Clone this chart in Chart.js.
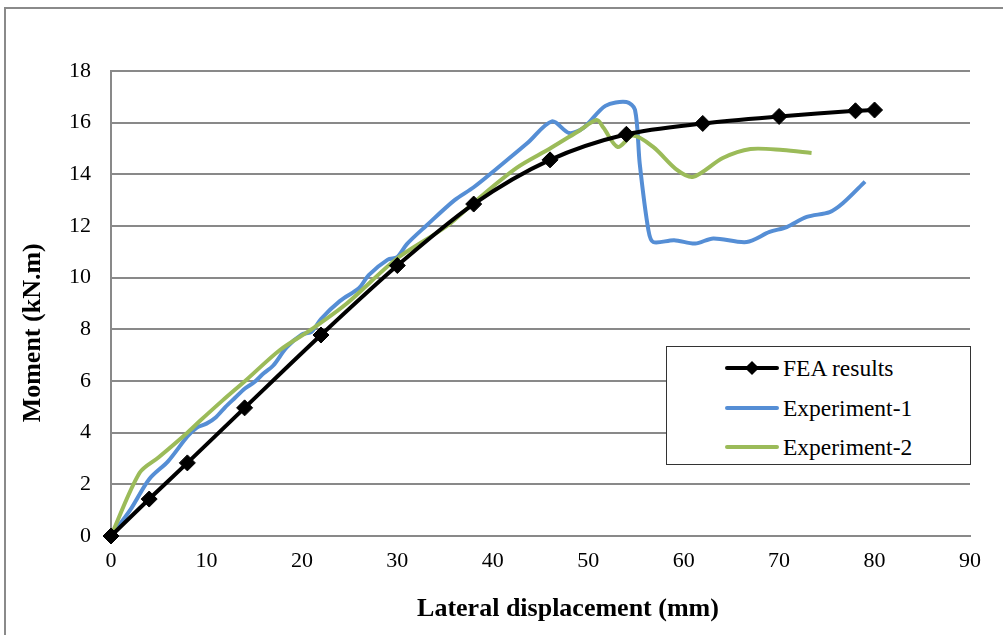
<!DOCTYPE html>
<html lang="en">
<head>
  <meta charset="UTF-8" />
  <title>Moment vs lateral displacement</title>
  <script src="https://cdn.jsdelivr.net/npm/chart.js@4.4.0/dist/chart.umd.min.js"></script>
  <style>
    body {
      margin: 0;
      background: white;
      overflow: hidden;
      font-family: "Liberation Serif", "Times New Roman", serif;
    }
    .wrap {
      position: relative;
      width: 1003px;
      height: 635px;
    }
    .frame {
      position: absolute;
      left: 4px;
      top: 7px;
      width: 1100px;
      height: 800px;
      border: 2px solid #8a8a8a;
    }
    canvas {
      position: absolute;
      left: 0;
      top: 0;
    }
    .legend {
      position: absolute;
      left: 666px;
      top: 346px;
      width: 305px;
      height: 119px;
      border: 1px solid #333;
      background: white;
      box-sizing: border-box;
    }
    .item {
      position: absolute;
      left: 58px;
      height: 30px;
      display: flex;
      align-items: center;
      font-size: 23.5px;
      color: #000;
    }
    .item .line {
      width: 54px;
      height: 4px;
      border-radius: 2px;
      margin-right: 4px;
      position: relative;
    }
    .item .dia {
      position: absolute;
      left: 22px;
      top: -3px;
      width: 10px;
      height: 10px;
      background: #000;
      transform: rotate(45deg);
    }
  </style>
</head>
<body>
  <div class="wrap">
    <div class="frame"></div>
    <canvas id="chart" width="1003" height="635"></canvas>
    <div class="legend">
      <div class="item" style="top:6px"><span class="line" style="background:#000"><span class="dia"></span></span>FEA results</div>
      <div class="item" style="top:46px"><span class="line" style="background:#558ed5"></span>Experiment-1</div>
      <div class="item" style="top:85px"><span class="line" style="background:#9bbb59"></span>Experiment-2</div>
    </div>
  </div>

  <script>
    const feaX = [0, 4, 8, 14, 22, 30, 38, 46, 54, 62, 70, 78, 80];
    const feaY = [0, 1.43, 2.83, 4.96, 7.78, 10.47, 12.85, 14.56, 15.55, 15.97, 16.24, 16.46, 16.49];

    const exp1X = [0, 2, 4, 6, 8, 9, 10, 11, 12, 13, 14, 15, 16, 17, 18.4, 20, 21, 22, 24, 26, 27, 29, 30,
                   31, 33, 36, 38, 41, 43.6, 46.2, 48, 49.5, 51.8, 54, 54.9, 55.4, 56.3, 56.8, 59, 61.2, 63.1,
                   66.6, 69, 70.8, 72.9, 75.3, 76.7, 79];
    const exp1Y = [0, 1.0, 2.2, 2.9, 3.85, 4.2, 4.35, 4.6, 5.0, 5.35, 5.7, 5.95, 6.3, 6.6, 7.3, 7.8, 7.9, 8.4, 9.1, 9.6, 10.1, 10.7, 10.8,
                   11.3, 12.0, 13.0, 13.5, 14.4, 15.2, 16.05, 15.6, 15.8, 16.65, 16.8, 16.5, 14.4, 11.85, 11.38, 11.45, 11.32, 11.52,
                   11.38, 11.77, 11.96, 12.35, 12.54, 12.89, 13.72];

    const exp2X = [0, 3, 5, 8, 9.3, 11.7, 14.2, 17.7, 21.2, 24.7, 30, 35.2, 38.3, 42.5, 46, 49.1, 50.9, 51.6, 53.1,
                   54.7, 56.8, 59.3, 61, 64.1, 67, 70.4, 73.4];
    const exp2Y = [0, 2.45, 3.05, 4.0, 4.45, 5.25, 6.05, 7.2, 8.05, 9.0, 10.75, 12.0, 13.0, 14.25, 15.0, 15.7, 16.1, 15.8, 15.06,
                   15.5, 15.06, 14.17, 13.9, 14.63, 14.98, 14.94, 14.83];

    const xTitle = 'Lateral displacement (mm)';
    const yTitle = 'Moment (kN.m)';

    const zip = (xs, ys) => xs.map((x, i) => ({ x: x, y: ys[i] }));

    const gridGray = '#898989';
    const tickFont = { family: 'Liberation Serif', size: 22 };

    // axis titles placed the way the original sits (a bit off-centre)
    const axisTitles = {
      id: 'axisTitles',
      afterDraw(chart) {
        const ctx = chart.ctx;
        const a = chart.chartArea;
        ctx.save();
        ctx.fillStyle = '#000';
        ctx.font = 'bold 26px "Liberation Serif"';
        ctx.textAlign = 'center';
        ctx.textBaseline = 'middle';
        ctx.fillText(xTitle, a.left + (a.right - a.left) * 0.532, 609);
        ctx.translate(33, a.top + (a.bottom - a.top) * 0.563);
        ctx.rotate(-Math.PI / 2);
        ctx.fillText(yTitle, 0, 0);
        ctx.restore();
      }
    };

    new Chart(document.getElementById('chart'), {
      type: 'line',
      data: {
        datasets: [
          {
            label: 'FEA results',
            data: zip(feaX, feaY),
            borderColor: '#000',
            backgroundColor: '#000',
            borderWidth: 4,
            pointStyle: 'rectRot',
            pointRadius: 8,
            pointBorderWidth: 1,
            tension: 0.3,
            clip: false,
            order: 0
          },
          {
            label: 'Experiment-1',
            data: zip(exp1X, exp1Y),
            borderColor: '#558ed5',
            borderWidth: 4,
            pointRadius: 0,
            tension: 0.3,
            order: 2
          },
          {
            label: 'Experiment-2',
            data: zip(exp2X, exp2Y),
            borderColor: '#9bbb59',
            borderWidth: 4,
            pointRadius: 0,
            tension: 0.3,
            order: 1
          }
        ]
      },
      options: {
        responsive: false,
        animation: false,
        layout: { padding: { left: 0, right: 33, top: 71, bottom: 0 } },
        plugins: {
          legend: { display: false },
          tooltip: { enabled: false }
        },
        scales: {
          x: {
            type: 'linear',
            min: 0,
            max: 90,
            ticks: { stepSize: 10, color: '#000', font: tickFont, padding: 12 },
            grid: { display: false, drawTicks: false },
            border: { color: gridGray, width: 2 },
            afterFit(scale) { scale.height = 99; }
          },
          y: {
            min: 0,
            max: 18,
            ticks: { stepSize: 2, color: '#000', font: tickFont, padding: 20 },
            grid: { color: gridGray, lineWidth: 2, drawTicks: false },
            border: { color: gridGray, width: 2 },
            afterFit(scale) { scale.width = 111; }
          }
        }
      },
      plugins: [axisTitles]
    });
  </script>
</body>
</html>
